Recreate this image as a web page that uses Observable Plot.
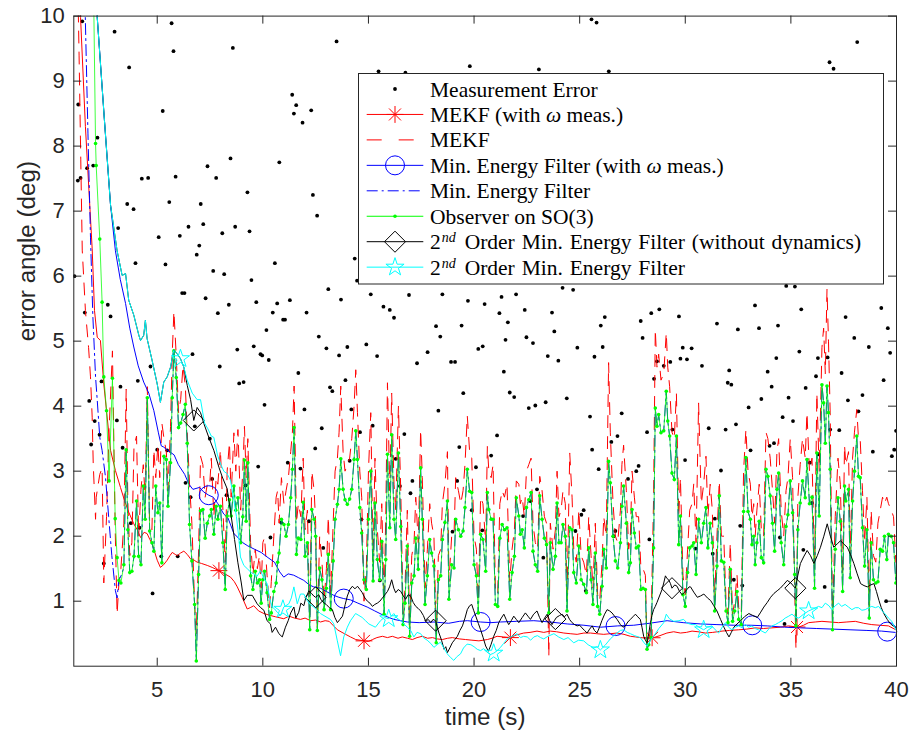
<!DOCTYPE html>
<html><head><meta charset="utf-8">
<script src="https://cdn.jsdelivr.net/npm/d3@7"></script>
<script src="https://cdn.jsdelivr.net/npm/@observablehq/plot@0.6"></script>
<style>html,body{margin:0;padding:0;background:#fff;}</style>
</head><body><div id="chart"></div>
<script>
// ---------------- DATA ----------------
const xTicks = [5,10,15,20,25,30,35,40];
const yTicks = [1,2,3,4,5,6,7,8,9,10];
const legendLabels = ["Measurement Error","MEKF (with ω meas.)","MEKF","Min. Energy Filter (with ω meas.)","Min. Energy Filter","Observer on SO(3)","2nd Order Min. Energy Filter (without dynamics)","2nd Order Min. Energy Filter"];

// measurement error (black dots) [time, error]
const measurement = [
[1.08,6.0],[1.24,7.47],[1.26,8.64],[1.37,7.51],[1.45,9.92],[1.57,5.44],[1.68,7.66],[1.78,4.08],[1.87,3.41],[1.97,7.70],
[2.04,3.77],[2.17,8.13],[2.27,3.56],[2.36,4.38],[2.47,1.58],[2.66,5.56],[2.79,5.38],[2.98,9.76],[3.09,3.78],[3.15,6.74],
[3.26,4.3],[3.36,3.36],[3.58,7.11],[3.67,9.21],[3.75,2.2],[3.88,7.03],[3.97,6.2],[4.08,4.39],[4.16,2.13],[4.27,7.50],
[4.57,7.51],[4.68,4.61],[4.78,1.12],[5.0,3.33],[5.07,6.6],[5.19,1.69],[5.26,8.54],[5.39,6.18],[5.47,3.32],[5.57,7.14],
[5.68,9.89],[5.77,9.46],[5.87,7.53],[5.97,1.69],[6.07,6.62],[6.18,5.74],[6.29,5.74],[6.34,2.82],[6.48,6.76],[6.58,2.6],
[6.67,4.8],[6.78,3.69],[6.87,6.33],[6.99,6.47],[7.06,7.11],[7.18,6.8],[7.29,5.66],[7.38,7.69],[7.49,3.5],[7.6,2.88],
[7.65,6.08],[7.79,7.51],[7.87,5.43],[7.96,4.61],[8.08,6.66],[8.17,6.03],[8.28,2.63],[8.39,5.56],[8.47,7.81],[8.58,9.51],
[8.69,6.76],[8.79,4.87],[8.88,4.35],[9.09,4.37],[9.18,2.78],[9.27,7.29],[9.37,6.69],[9.46,5.94],[9.57,4.92],[9.69,5.6],
[9.78,3.07],[9.89,4.8],[9.97,4.78],[10.08,4.02],[10.17,5.17],[10.28,4.71],[10.36,1.98],[10.47,5.44],[10.57,6.2],[10.68,5.58],
[10.78,7.75],[10.87,2.21],[10.96,5.33],[11.05,5.33],[11.18,3.13],[11.28,5.63],[11.39,8.79],[11.47,8.5],[11.58,8.63],[11.68,4.51],
[11.78,3.04],[11.88,8.36],[11.97,3.95],[12.07,5.44],[12.18,2.23],[12.29,8.55],[12.37,7.25],[12.48,3.35],[12.57,6.93],[12.65,5.07],
[12.79,3.66],[12.86,1.82],[13.01,4.89],[13.1,5.8],[13.18,4.29],[13.29,4.23],[13.49,9.61],[13.61,4.78],[13.7,5.64],[13.91,4.4],[14.0,4.91],
[14.11,3.16],[14.19,3.95],[14.35,6.27],[14.46,5.93],[14.6,3.6],[14.67,2.26],[14.9,4.95],[15.11,5.72],[15.2,3.7],[15.41,4.77],
[15.48,9.15],[15.54,1.32],[15.71,5.53],[16.01,5.48],[16.21,5.36],[16.29,3.19],[16.49,2.77],[16.7,3.57],[16.75,9.13],[16.92,5.71],[16.99,2.66],[17.08,2.85],
[17.3,4.66],[17.8,4.83],[18.2,5.23],[18.31,3.93],[18.4,5.07],[18.5,5.72],[18.91,4.68],[18.98,2.07],[19.1,4.68],[19.2,2.85],
[19.3,3.37],[19.41,5.24],[19.49,4.2],[19.71,5.62],[19.8,9.23],[19.89,2.4],[20.09,3.06],[20.2,4.88],[20.39,2.09],[20.41,4.92],[20.5,5.57],
[20.81,3.24],[21.09,3.55],[21.2,5.43],[21.3,5.68],[21.41,4.53],[21.49,5.02],[21.6,5.29],[21.69,4.21],[21.9,4.14],[21.99,5.72],
[22.32,2.31],[22.4,5.48],[22.48,5.06],[22.59,3.97],[22.67,2.54],[22.79,4.97],[22.9,4.01],[22.98,2.72],[23.07,9.18],[23.28,1.67],[23.39,4.06],
[23.49,4.77],[23.69,5.44],[23.8,5.15],[23.99,4.7],[24.19,5.82],[24.39,4.12],[24.69,5.79],[24.8,2.08],[24.89,4.9],[25.08,2.33],
[25.19,2.4],[25.29,1.16],[25.49,3.84],[25.56,9.95],[25.59,3.33],[25.7,4.76],[25.8,9.9],[25.9,3.03],[26.0,5.24],[26.09,4.91],[26.19,5.37],[26.38,9.15],[26.5,3.45],
[26.61,2.0],[26.69,2.08],[26.79,3.54],[26.99,3.89],[27.29,2.88],[27.68,3.0],[27.79,3.08],[27.89,5.31],[27.98,5.05],[28.19,3.6],
[28.3,1.95],[28.39,5.43],[28.52,4.42],[28.66,4.69],[28.77,5.49],[28.98,4.62],[29.29,4.68],[29.39,3.64],[29.7,5.38],[29.77,4.73],
[29.88,4.9],[29.99,3.17],[30.08,4.72],[30.3,4.89],[30.49,1.81],[30.79,4.62],[31.11,3.66],[31.3,1.73],[31.4,2.27],[31.5,5.27],
[31.69,3.01],[31.91,3.64],[32.01,4.36],[32.08,4.55],[32.18,4.33],[32.3,1.33],[32.4,3.72],[32.49,5.18],[32.6,2.16],[32.7,1.24],
[33.0,3.98],[33.09,3.32],[33.3,5.55],[33.49,5.2],[33.6,4.11],[33.9,4.53],[33.99,3.39],[34.09,4.3],[34.2,3.43],[34.31,4.74],
[34.39,5.24],[34.48,1.98],[34.61,3.83],[34.7,0.65],[34.78,5.85],[34.89,4.13],[35.1,3.77],[35.19,5.84],[35.4,4.84],[35.49,5.49],
[35.59,1.79],[35.7,4.28],[35.9,3.13],[36.0,2.51],[36.19,4.46],[36.28,4.74],[36.3,3.26],[36.6,1.22],[36.74,4.75],[36.83,9.29],[36.86,3.64],[37.02,9.19],
[37.29,3.63],[37.4,4.51],[37.59,5.37],[37.7,4.09],[38.0,5.05],[38.14,9.6],[38.2,3.92],[38.39,4.17],[38.69,4.91],[38.88,3.3],[39.28,5.51],
[39.39,4.4],[39.51,1.0],[39.59,5.2],[39.7,4.82],[39.78,3.23],[39.89,3.33],[39.98,3.62]
];

// MEKF (with omega meas.) red solid [time, error]
const mekfWithOmega = [
[1.2,11.5],[1.37,9.98],[1.6,8.3],[1.92,6.42],[2.03,5.47],[2.16,5.06],[2.31,5.01],[2.47,4.34],[2.79,3.32],[3.02,3.01],
[3.26,2.75],[3.45,2.55],[3.65,2.37],[3.89,2.19],[4.05,2.1],[4.21,1.98],[4.38,2.06],[4.52,2.04],[4.65,1.95],[4.76,1.88],
[5.0,1.63],[5.15,1.52],[5.3,1.56],[5.47,1.63],[5.6,1.7],[5.71,1.75],[5.85,1.72],[5.95,1.70],[6.1,1.74],[6.26,1.77],
[6.42,1.72],[6.58,1.65],[6.75,1.63],[6.89,1.6],[7.1,1.58],[7.37,1.55],[7.6,1.52],[7.92,1.47],[8.2,1.42],[8.47,1.37],
[8.65,1.3],[8.79,1.22],[9.02,1.06],[9.26,0.88],[9.4,0.9],[9.57,0.93],[9.8,0.85],[10.05,0.81],[10.36,0.78],[10.6,0.76],
[10.99,0.73],[11.24,0.77],[11.5,0.74],[11.78,0.72],[12.0,0.74],[12.26,0.70],[12.5,0.71],[12.73,0.68],[12.95,0.7],[13.14,0.69],
[13.35,0.62],[13.53,0.56],[13.75,0.52],[13.92,0.49],[14.15,0.45],[14.4,0.41],[14.6,0.4],[14.79,0.39],[15.0,0.38],[15.19,0.41],
[15.4,0.44],[15.66,0.46],[15.9,0.44],[16.13,0.46],[16.4,0.43],[16.6,0.45],[16.85,0.43],[17.08,0.41],[17.3,0.44],[17.55,0.46],
[17.8,0.43],[18.03,0.44],[18.25,0.42],[18.5,0.41],[18.75,0.43],[18.97,0.44],[19.3,0.42],[19.6,0.41],[19.9,0.40],[20.23,0.39],
[20.63,0.41],[20.85,0.43],[21.09,0.46],[21.4,0.45],[21.72,0.44],[22.0,0.48],[22.35,0.51],[22.65,0.52],[22.98,0.54],[23.3,0.52],
[23.61,0.54],[23.9,0.53],[24.25,0.51],[24.55,0.50],[24.88,0.49],[25.2,0.51],[25.51,0.51],[25.8,0.50],[26.14,0.49],[26.45,0.50],
[26.77,0.51],[27.1,0.49],[27.4,0.46],[27.65,0.45],[27.87,0.44],[28.2,0.43],[28.5,0.44],[28.8,0.47],[29.13,0.51],[29.45,0.53],
[29.77,0.51],[30.05,0.52],[30.32,0.54],[30.6,0.53],[30.95,0.51],[31.3,0.52],[31.74,0.54],[32.1,0.55],[32.53,0.56],[32.9,0.57],
[33.31,0.59],[33.7,0.58],[34.1,0.59],[34.5,0.60],[34.89,0.62],[35.1,0.61],[35.36,0.60],[35.6,0.63],[35.84,0.67],[36.15,0.68],
[36.47,0.69],[36.85,0.68],[37.26,0.67],[37.65,0.68],[38.05,0.69],[38.45,0.66],[38.83,0.64],[39.2,0.63],[39.62,0.62],[39.97,0.56]
];
const mekfWithOmegaMarkT = [7.92,14.79,21.72,28.43,35.29];

// MEKF red dashed: transient before the common time grid [time, error]
const mekfEarly = [[1.1,13.0],[1.2,11.2],[1.3,9.4],[1.38,7.8],[1.45,6.4],[1.6,5.47],[1.75,4.9],[1.84,4.45],[1.92,3.83]];

// Observer on SO(3) (green) and MEKF (red dashed) on the shared time grid: [time, observer, MEKF]
const observerMekf = [
[1.97,10.8,3.11],[2.08,8.04,2.26],[2.11,7.7,2.6],[2.28,6.57,2.95],[2.39,5.6,3.05],[2.47,4.45,1.28],[2.6,3.93,2.3],[2.72,2.85,3.64],[2.88,4.43,4.85],[3.01,2.27,2.1],
[3.1,1.67,0.8],[3.19,1.32,1.3],[3.28,1.28,1.5],[3.42,1.56,2.2],[3.53,3.33,4.26],[3.61,2.1,2.51],[3.7,1.44,1.7],[3.8,1.46,1.9],[3.9,1.69,3.38],[4.02,2.54,3.54],
[4.12,1.69,2.0],[4.23,1.56,2.72],[4.34,2.77,3.1],[4.43,2.26,2.6],[4.53,4.13,4.3],[4.64,2.08,2.2],[4.75,1.9,2.1],[4.84,1.77,3.33],[4.93,2.77,2.9],[5.03,2.36,3.41],
[5.12,2.51,2.9],[5.22,1.59,3.74],[5.32,3.23,3.5],[5.43,3.18,3.3],[5.51,2.46,2.7],[5.63,3.13,3.69],[5.71,4.13,4.8],[5.79,4.85,5.46],[5.9,4.44,4.77],[6.01,3.67,3.9],
[6.11,3.74,4.1],[6.22,3.87,4.62],[6.33,4.03,4.31],[6.42,3.43,3.6],[6.53,2.18,2.8],[6.64,1.62,2.2],[6.77,0.95,0.95],[6.85,0.08,0.5],[6.96,1.41,1.8],[7.05,2.39,3.23],
[7.16,2.41,3.1],[7.27,1.97,2.6],[7.37,2.2,2.8],[7.48,2.31,2.77],[7.56,2.41,3.2],[7.68,2.03,2.3],[7.79,2.46,2.9],[7.87,2.26,2.8],[7.99,2.46,3.33],[8.11,1.9,2.4],
[8.22,1.18,1.6],[8.31,2.31,3.0],[8.42,2.56,3.44],[8.5,2.31,2.6],[8.63,2.77,3.59],[8.72,2.4,3.0],[8.82,2.59,3.64],[8.95,1.9,2.4],[9.05,2.3,3.0],[9.13,3.17,3.69],
[9.21,2.23,2.9],[9.29,3.13,3.5],[9.42,1.39,1.9],[9.53,1.18,1.4],[9.64,1.46,1.8],[9.74,1.28,1.5],[9.84,1.33,1.7],[9.92,0.97,1.2],[10.0,1.33,1.9],[10.08,1.46,1.98],
[10.2,1.13,1.4],[10.32,0.72,0.9],[10.4,0.82,1.3],[10.52,1.15,2.0],[10.63,1.28,2.6],[10.7,1.6,2.7],[10.77,1.74,2.2],[10.88,2.26,2.9],[11.0,2.18,2.5],[11.1,2.0,2.7],
[11.21,2.18,2.9],[11.32,2.59,3.3],[11.4,3.03,3.6],[11.48,3.67,4.31],[11.59,1.72,2.2],[11.68,1.97,2.5],[11.8,1.95,2.3],[11.91,2.52,3.2],[12.0,1.69,2.1],[12.11,1.9,2.4],
[12.22,0.56,0.7],[12.32,2.41,3.0],[12.43,2.26,2.7],[12.5,2.0,2.2],[12.58,0.55,0.6],[12.69,1.51,2.0],[12.8,1.33,1.6],[12.9,0.87,1.0],[13.01,1.2,1.5],[13.1,1.72,2.3],
[13.21,0.87,1.1],[13.33,1.62,2.2],[13.42,2.26,3.0],[13.53,2.49,3.2],[13.61,2.72,3.6],[13.69,3.19,4.31],[13.8,2.72,3.3],[13.89,2.56,3.0],[14.0,2.49,3.1],[14.11,2.57,3.2],
[14.21,2.72,3.5],[14.32,3.18,4.0],[14.4,3.62,4.56],[14.48,3.18,3.9],[14.59,2.44,3.0],[14.68,2.05,2.6],[14.79,1.33,1.0],[14.9,1.18,1.5],[15.0,2.26,3.0],[15.11,3.0,3.9],
[15.22,1.31,1.6],[15.31,2.51,3.2],[15.42,1.64,2.1],[15.53,1.33,1.6],[15.63,1.92,2.5],[15.74,0.8,1.0],[15.82,1.64,2.3],[15.9,3.26,4.36],[16.01,2.13,2.7],[16.1,3.56,4.2],
[16.21,2.26,2.8],[16.29,1.95,2.4],[16.42,3.28,4.0],[16.53,2.15,2.7],[16.64,0.64,0.8],[16.73,0.97,1.2],[16.84,1.85,2.4],[16.95,0.46,0.6],[17.05,1.28,1.7],[17.16,1.39,1.9],
[17.24,1.97,2.6],[17.36,1.49,1.9],[17.47,3.05,3.64],[17.55,2.26,2.9],[17.68,0.95,1.2],[17.79,1.39,1.8],[17.9,1.95,2.5],[17.99,1.74,2.2],[18.1,1.54,2.0],[18.21,0.36,0.5],
[18.31,1.33,1.7],[18.42,1.39,1.8],[18.5,1.95,2.5],[18.62,2.21,2.8],[18.74,2.54,3.3],[18.81,1.03,1.3],[18.94,1.56,2.0],[19.05,1.51,2.0],[19.13,2.26,2.9],[19.26,2.1,2.7],
[19.37,2.0,2.5],[19.48,2.08,2.7],[19.57,2.44,3.1],[19.68,3.03,3.85],[19.79,2.69,3.3],[19.89,2.67,3.2],[20.0,1.56,2.0],[20.11,1.39,1.8],[20.2,0.82,1.0],[20.31,2.03,2.6],
[20.42,1.95,2.5],[20.55,1.46,1.9],[20.63,2.67,3.38],[20.7,2.41,3.0],[20.81,2.26,2.9],[20.9,2.26,3.1],[21.01,0.95,1.2],[21.12,0.92,1.1],[21.22,1.97,2.5],[21.33,2.18,2.7],
[21.44,2.1,2.6],[21.56,2.13,2.8],[21.69,1.03,1.3],[21.8,1.44,1.8],[21.91,1.69,2.1],[22.0,2.59,2.85],[22.12,2.31,2.8],[22.19,2.03,2.5],[22.28,2.1,2.6],[22.38,1.82,2.3],
[22.48,2.44,3.0],[22.59,2.56,3.1],[22.7,2.67,3.2],[22.79,1.77,2.2],[22.9,1.56,1.9],[23.01,1.46,1.8],[23.11,2.62,2.92],[23.22,2.26,2.7],[23.33,1.97,2.3],[23.43,1.87,2.2],
[23.54,0.82,0.15],[23.61,1.9,2.2],[23.74,1.49,1.8],[23.85,1.69,2.1],[23.93,2.51,3.0],[24.02,1.9,2.3],[24.12,1.9,2.4],[24.21,2.18,2.7],[24.32,2.0,2.5],[24.4,0.85,1.0],
[24.53,2.13,3.28],[24.64,2.1,2.6],[24.72,1.44,1.8],[24.84,1.28,1.6],[24.96,1.85,2.4],[25.07,1.33,1.7],[25.19,1.26,1.6],[25.32,1.13,1.4],[25.43,1.82,2.3],[25.54,1.33,1.7],
[25.63,0.95,1.2],[25.74,1.74,2.2],[25.85,0.92,1.1],[25.95,0.8,1.0],[26.06,1.23,1.6],[26.14,1.8,2.3],[26.26,1.51,2.0],[26.37,3.15,4.67],[26.45,2.82,3.6],[26.58,2.0,2.5],
[26.69,1.62,2.0],[26.8,1.51,1.9],[26.93,1.9,2.4],[27.0,2.46,3.1],[27.08,2.77,3.4],[27.21,2.2,2.7],[27.32,1.44,1.8],[27.4,1.59,2.0],[27.48,2.41,3.0],[27.59,2.05,2.6],
[27.68,1.82,2.3],[27.79,1.85,2.3],[27.9,1.18,1.5],[28.0,1.2,1.5],[28.11,1.18,1.4],[28.19,0.26,0.3],[28.27,0.33,0.4],[28.38,0.44,0.6],[28.5,1.82,2.6],[28.58,3.97,5.18],
[28.66,3.69,4.6],[28.74,3.87,4.8],[28.85,3.59,4.4],[28.98,3.62,4.5],[29.1,4.23,5.13],[29.17,3.77,4.6],[29.26,3.54,4.3],[29.37,2.97,3.6],[29.48,2.87,3.5],[29.58,3.54,4.2],
[29.69,1.87,2.3],[29.77,2.31,2.9],[29.89,1.1,1.4],[30.0,0.92,1.1],[30.11,1.44,1.8],[30.21,1.82,2.4],[30.32,1.85,2.5],[30.4,1.9,2.8],[30.51,1.41,1.9],[30.63,2.26,4.05],
[30.76,1.9,2.5],[30.87,2.2,2.8],[30.98,2.44,3.23],[31.07,1.82,2.3],[31.18,2.2,2.8],[31.28,1.9,2.4],[31.39,0.85,1.0],[31.5,1.54,2.0],[31.61,2.62,2.85],[31.71,1.62,2.0],
[31.82,1.6,2.0],[31.93,0.85,1.0],[32.02,0.67,0.8],[32.13,1.49,1.9],[32.24,0.69,0.8],[32.34,0.85,1.0],[32.45,1.15,1.4],[32.53,0.72,0.9],[32.65,0.64,0.8],[32.76,2.38,3.0],
[32.87,3.21,3.64],[32.97,2.38,3.0],[33.08,2.26,2.8],[33.16,1.87,2.3],[33.24,2.0,2.5],[33.31,1.56,2.0],[33.39,1.9,2.4],[33.5,2.23,2.8],[33.6,1.67,2.1],[33.71,1.59,2.0],
[33.82,3.03,3.6],[33.91,2.92,3.5],[34.02,2.62,3.2],[34.13,2.2,2.7],[34.23,1.77,2.2],[34.34,2.72,3.3],[34.42,2.97,3.5],[34.54,1.9,2.4],[34.66,1.56,2.0],[34.77,2.15,2.7],
[34.86,2.33,2.9],[34.97,2.85,3.5],[35.08,2.36,2.9],[35.18,1.41,1.2],[35.24,0.62,0.26],[35.33,2.1,2.6],[35.44,2.51,3.1],[35.55,2.85,3.5],[35.68,2.59,3.2],[35.76,3.18,3.9],
[35.88,2.5,3.0],[36.0,2.6,3.2],[36.12,1.2,1.5],[36.23,3.28,4.2],[36.34,2.31,3.0],[36.47,4.33,4.9],[36.55,4.05,5.2],[36.63,3.43,4.5],[36.71,4.31,5.8],[36.78,3.9,5.0],
[36.86,3.03,3.9],[36.97,0.56,0.7],[37.1,1.8,2.3],[37.23,2.59,3.2],[37.34,2.23,2.8],[37.45,1.15,1.4],[37.54,2.77,3.4],[37.6,2.54,3.1],[37.73,2.72,3.3],[37.81,1.36,1.7],
[37.92,2.54,3.2],[38.01,3.0,3.6],[38.12,3.54,3.95],[38.2,2.92,3.5],[38.28,2.9,3.5],[38.39,2.13,2.7],[38.49,1.54,1.9],[38.6,2.1,2.6],[38.71,0.74,0.9],[38.8,1.9,2.4],
[38.91,1.33,1.7],[39.02,1.28,1.6],[39.12,1.3,2.2],[39.23,1.8,2.4],[39.34,1.77,2.6],[39.43,2.0,2.5],[39.54,1.64,2.6],[39.62,2.03,2.5],[39.75,2.0,2.4],[39.86,1.9,2.3],
[39.97,1.28,1.6]
];

// Min. Energy Filter (with omega meas.) blue solid [time, error]
const minEnergyWithOmega = [
[2.0,11.5],[2.16,9.98],[2.5,8.4],[2.79,7.09],[3.02,6.39],[3.25,5.95],[3.5,5.58],[3.7,5.2],[3.89,4.91],[4.1,4.62],
[4.36,4.37],[4.6,4.2],[4.84,3.93],[5.05,3.6],[5.19,3.39],[5.31,3.37],[5.45,3.33],[5.63,3.29],[5.8,3.25],[6.0,3.1],
[6.3,2.95],[6.5,2.8],[6.69,2.72],[7.0,2.75],[7.2,2.68],[7.44,2.63],[7.65,2.6],[7.87,2.5],[8.15,2.34],[8.35,2.28],
[8.63,2.04],[8.82,1.98],[9.05,1.9],[9.29,1.85],[9.6,1.8],[9.92,1.75],[10.2,1.68],[10.55,1.6],[10.8,1.45],[10.99,1.37],
[11.2,1.42],[11.46,1.40],[11.7,1.36],[11.94,1.32],[12.2,1.25],[12.41,1.22],[12.73,1.2],[13.0,1.15],[13.36,1.09],[13.6,1.06],
[13.83,1.04],[14.15,1.02],[14.5,0.97],[14.94,0.91],[15.3,0.85],[15.73,0.78],[16.2,0.72],[16.84,0.68],[17.4,0.67],[18.1,0.68],
[18.8,0.66],[19.3,0.69],[19.68,0.70],[20.3,0.68],[20.8,0.67],[21.25,0.68],[22.0,0.69],[22.83,0.70],[23.6,0.68],[24.41,0.65],
[25.2,0.63],[25.99,0.60],[26.8,0.62],[27.56,0.63],[28.3,0.66],[29.14,0.70],[29.9,0.67],[30.72,0.65],[31.5,0.64],[32.3,0.63],
[33.1,0.63],[33.88,0.62],[34.7,0.6],[35.45,0.59],[36.2,0.58],[37.03,0.57],[37.8,0.56],[38.6,0.55],[39.3,0.54],[39.94,0.52]
];
const minEnergyWithOmegaMarkT = [7.44,13.83,20.31,26.7,33.17,39.56];

// Min. Energy Filter (blue dash-dot): own transient, afterwards it coincides with the observer
const minEnergyEarly = [[1.5,11.5],[1.6,9.9],[1.72,8.2],[1.84,6.6],[1.95,5.4],[2.08,4.45],[2.16,4.09],[2.28,3.52],[2.39,3.32],[2.55,2.91],[2.7,2.3],[2.85,1.7],[3.02,1.16],[3.1,1.05],[3.18,1.32],[3.3,1.4],[3.42,1.52]];

// shared start of both 2nd order filters
const secondOrderStart = [[2.0,11.5],[2.16,9.98],[2.5,8.4],[2.79,7.09],[3.1,6.39],[3.34,6.01],[3.5,6.04],[3.65,5.63],[3.89,5.4],[4.13,5.09],[4.21,5.01],[4.36,5.09],[4.44,5.32],[4.52,5.04],[4.76,4.7],[5.0,4.34],[5.15,4.06],[5.31,4.37],[5.47,4.45],[5.63,4.6],[5.78,4.86],[5.94,4.81],[6.1,4.73],[6.26,4.6]];

// 2nd Order Min. Energy Filter (without dynamics) black [time, error]
const secondOrderNoDyn = [
[6.42,4.32],[6.58,4.1],[6.73,3.78],[6.89,3.98],[7.05,3.9],[7.21,3.73],[7.44,3.52],[7.68,3.32],[7.92,3.06],[8.08,2.91],
[8.31,2.73],[8.5,2.31],[8.66,1.95],[8.82,1.59],[8.98,1.28],[9.1,1.01],[9.26,1.09],[9.5,1.09],[9.73,0.96],[9.9,0.9],
[10.05,0.86],[10.2,0.7],[10.36,0.65],[10.44,0.52],[10.6,0.6],[10.76,0.5],[10.92,0.45],[11.07,0.6],[11.2,0.7],[11.32,0.82],
[11.47,0.91],[11.56,0.74],[11.7,0.83],[11.8,0.97],[11.94,0.93],[12.03,1.05],[12.18,1.16],[12.3,1.12],[12.41,1.08],[12.5,1.06],
[12.65,1.1],[12.74,1.03],[12.87,0.98],[13.0,0.95],[13.15,0.9],[13.29,0.87],[13.41,0.75],[13.53,0.67],[13.65,0.72],[13.77,0.77],
[13.9,0.95],[14.0,1.08],[14.12,1.18],[14.24,1.23],[14.36,1.19],[14.48,1.23],[14.6,1.18],[14.71,1.13],[14.83,1.05],[14.95,1.0],
[15.07,0.97],[15.19,0.92],[15.3,0.95],[15.42,0.97],[15.54,1.0],[15.66,1.05],[15.78,1.1],[15.9,1.15],[16.0,1.22],[16.1,1.33],
[16.2,1.2],[16.29,1.13],[16.41,1.18],[16.53,1.15],[16.65,1.08],[16.76,1.03],[16.88,1.1],[17.0,1.08],[17.12,0.98],[17.24,0.92],
[17.35,0.89],[17.47,0.85],[17.6,0.78],[17.71,0.69],[17.83,0.72],[17.95,0.67],[18.06,0.72],[18.18,0.7],[18.26,0.6],[18.34,0.51],
[18.46,0.4],[18.58,0.26],[18.66,0.3],[18.74,0.21],[18.85,0.28],[18.97,0.36],[19.09,0.41],[19.21,0.46],[19.33,0.55],[19.45,0.62],
[19.57,0.74],[19.68,0.87],[19.79,0.93],[19.89,0.95],[19.98,0.86],[20.08,0.77],[20.2,0.66],[20.31,0.56],[20.43,0.44],[20.55,0.31],
[20.68,0.23],[20.8,0.33],[20.93,0.46],[21.05,0.55],[21.17,0.67],[21.29,0.74],[21.41,0.8],[21.52,0.72],[21.64,0.64],[21.76,0.7],
[21.88,0.77],[22.0,0.72],[22.12,0.67],[22.28,0.75],[22.43,0.82],[22.55,0.77],[22.67,0.72],[22.82,0.8],[22.98,0.85],[23.1,0.75],
[23.22,0.67],[23.34,0.74],[23.46,0.8],[23.58,0.7],[23.69,0.64],[23.8,0.7],[23.9,0.75],[24.05,0.78],[24.17,0.8],[24.28,0.76],
[24.4,0.8],[24.52,0.72],[24.64,0.67],[24.76,0.64],[24.88,0.62],[25.0,0.63],[25.11,0.59],[25.23,0.55],[25.35,0.51],[25.47,0.57],
[25.59,0.62],[25.7,0.55],[25.82,0.51],[25.94,0.6],[26.05,0.7],[26.18,0.8],[26.3,0.87],[26.42,0.85],[26.53,0.82],[26.65,0.77],
[26.77,0.72],[26.93,0.64],[27.05,0.6],[27.16,0.62],[27.28,0.68],[27.4,0.72],[27.52,0.76],[27.64,0.8],[27.75,0.76],[27.87,0.72],
[27.95,0.6],[28.03,0.46],[28.11,0.4],[28.19,0.36],[28.27,0.5],[28.35,0.67],[28.42,0.78],[28.5,0.87],[28.58,0.92],[28.66,0.98],
[28.78,1.08],[28.9,1.18],[28.98,1.28],[29.06,1.39],[29.13,1.35],[29.21,1.33],[29.3,1.27],[29.37,1.2],[29.5,1.25],[29.61,1.23],
[29.73,1.15],[29.85,1.1],[29.97,1.14],[30.08,1.18],[30.18,1.22],[30.25,1.22],[30.4,1.14],[30.57,1.06],[30.72,1.08],[30.88,1.11],
[31.05,1.05],[31.2,1.01],[31.35,0.93],[31.5,0.85],[31.67,0.72],[31.83,0.6],[31.95,0.52],[32.07,0.45],[32.18,0.52],[32.3,0.6],
[32.45,0.65],[32.62,0.7],[32.8,0.76],[33.01,0.81],[33.2,0.78],[33.41,0.75],[33.55,0.82],[33.72,0.91],[33.88,0.98],[34.04,1.06],
[34.2,1.12],[34.35,1.16],[34.5,1.2],[34.67,1.26],[34.83,1.32],[35.0,1.28],[35.21,1.2],[35.33,1.4],[35.45,1.58],[35.6,1.68],
[35.77,1.78],[35.93,1.7],[36.09,1.58],[36.25,1.7],[36.4,1.83],[36.56,2.0],[36.72,2.19],[36.87,2.0],[37.03,1.83],[37.19,1.88],
[37.35,1.93],[37.5,1.88],[37.67,1.83],[37.82,1.72],[37.98,1.58],[38.14,1.42],[38.3,1.27],[38.46,1.24],[38.62,1.22],[38.78,1.25],
[38.93,1.27],[39.05,1.15],[39.17,1.01],[39.28,0.9],[39.4,0.81],[39.56,0.72],[39.72,0.65],[39.84,0.62],[39.96,0.6]
];
const secondOrderNoDynMarkT = [6.73,12.5,18.18,23.85,29.37,35.21];

// 2nd Order Min. Energy Filter cyan [time, error]
const secondOrder = [
[6.42,4.4],[6.66,4.2],[6.89,4.1],[7.05,4.1],[7.24,3.74],[7.4,3.65],[7.56,3.54],[7.68,3.52],[7.85,3.25],[8.0,3.11],
[8.15,3.0],[8.31,2.96],[8.47,2.86],[8.63,2.55],[8.75,2.3],[8.86,1.98],[8.94,1.68],[9.1,1.55],[9.26,1.5],[9.45,1.44],
[9.57,1.42],[9.72,1.38],[9.89,1.47],[10.05,1.35],[10.2,1.27],[10.32,1.05],[10.44,0.91],[10.56,0.88],[10.68,0.83],[10.84,0.78],
[10.99,0.91],[11.23,0.96],[11.35,1.05],[11.47,1.22],[11.63,0.96],[11.78,1.11],[11.94,1.11],[12.1,1.01],[12.25,0.95],[12.41,0.91],
[12.57,0.86],[12.73,0.81],[13.04,0.75],[13.2,0.72],[13.36,0.65],[13.52,0.4],[13.68,0.16],[13.83,0.45],[14.0,0.6],[14.15,0.7],
[14.39,0.81],[14.55,0.78],[14.7,0.75],[14.86,0.7],[15.02,0.65],[15.33,0.6],[15.57,0.7],[15.75,0.75],[15.96,0.73],[16.2,0.81],
[16.35,0.74],[16.52,0.7],[16.84,0.6],[17.0,0.55],[17.15,0.45],[17.3,0.52],[17.47,0.5],[17.6,0.44],[17.78,0.4],[17.95,0.35],
[18.1,0.29],[18.25,0.33],[18.41,0.37],[18.57,0.28],[18.73,0.19],[18.9,0.13],[19.04,0.09],[19.2,0.15],[19.36,0.19],[19.5,0.28],
[19.67,0.34],[19.85,0.33],[20.0,0.3],[20.15,0.26],[20.31,0.24],[20.45,0.27],[20.62,0.22],[20.78,0.18],[20.93,0.2],[21.1,0.24],
[21.25,0.29],[21.4,0.35],[21.57,0.42],[21.8,0.46],[22.04,0.5],[22.2,0.44],[22.35,0.46],[22.52,0.45],[22.68,0.4],[22.83,0.45],
[23.0,0.47],[23.15,0.44],[23.3,0.42],[23.5,0.46],[23.78,0.5],[24.0,0.45],[24.25,0.41],[24.45,0.44],[24.72,0.36],[24.95,0.4],
[25.19,0.39],[25.4,0.33],[25.67,0.28],[25.82,0.3],[25.98,0.25],[26.2,0.32],[26.45,0.42],[26.62,0.47],[26.77,0.51],[26.93,0.55],
[27.08,0.56],[27.25,0.52],[27.4,0.5],[27.6,0.47],[27.87,0.44],[28.05,0.36],[28.19,0.31],[28.35,0.4],[28.5,0.46],[28.75,0.58],
[28.98,0.67],[29.1,0.8],[29.25,0.73],[29.45,0.69],[29.7,0.7],[29.92,0.72],[30.1,0.66],[30.32,0.64],[30.48,0.64],[30.65,0.6],
[30.87,0.56],[31.05,0.6],[31.26,0.62],[31.42,0.56],[31.58,0.51],[31.75,0.6],[31.9,0.67],[32.05,0.6],[32.21,0.56],[32.37,0.6],
[32.53,0.62],[32.7,0.59],[32.84,0.64],[33.0,0.6],[33.16,0.62],[33.3,0.58],[33.47,0.56],[33.63,0.54],[33.79,0.51],[33.95,0.57],
[34.1,0.62],[34.26,0.64],[34.42,0.67],[34.58,0.7],[34.73,0.74],[34.9,0.77],[35.05,0.8],[35.2,0.76],[35.37,0.74],[35.6,0.8],
[35.84,0.85],[36.05,0.88],[36.31,0.92],[36.47,0.9],[36.63,0.97],[36.8,0.93],[36.94,0.87],[37.1,0.93],[37.26,0.97],[37.4,0.92],
[37.57,0.95],[37.73,0.91],[37.89,0.87],[38.05,0.9],[38.2,0.9],[38.36,0.86],[38.52,0.87],[38.68,0.9],[38.83,0.92],[39.0,0.9],
[39.15,0.92],[39.3,0.86],[39.47,0.8],[39.62,0.74],[39.78,0.69],[39.97,0.56]
];
const secondOrderMarkT = [6.1,10.95,15.96,20.93,25.98,30.87,35.84];

// ---------------- BUILD ----------------
const pts = a => a.map(([t, v]) => ({t, v}));
const obsRows = observerMekf.map(([t, g, m]) => ({t, g, m}));
const measPts = pts(measurement);
const mekfW = pts(mekfWithOmega);
const mekfDash = [...pts(mekfEarly), ...obsRows.map(d => ({t: d.t, v: d.m}))];
const minEW = pts(minEnergyWithOmega);
const minEDash = [...pts(minEnergyEarly), ...obsRows.filter(d => d.t > 3.45).map(d => ({t: d.t, v: d.g}))];
const obs = obsRows.map(d => ({t: d.t, v: d.g}));
const so2nd0 = [...pts(secondOrderStart), ...pts(secondOrderNoDyn)];
const so2nd = [...pts(secondOrderStart), ...pts(secondOrder)];

function at(series, t) {
  for (let i = 0; i < series.length - 1; i++) {
    const a = series[i], b = series[i + 1];
    if (t >= a.t && t <= b.t) return a.v + (b.v - a.v) * (t - a.t) / (b.t - a.t);
  }
  return series[series.length - 1].v;
}
const markers = (series, ts) => ts.map(t => ({t, v: at(series, t)}));

const RED = "#ff0000", BLUE = "#0000ff", GREEN = "#00ff00", CYAN = "#00ffff", BLACK = "#000000", AX = "#262626";
const FONT = "'Liberation Sans', Arial, Helvetica, sans-serif";
const ML = 73.3, MR = 16, MT = 15.6, MB = 72.3, W = 912, H = 738;
const frameW = W - ML - MR, frameH = H - MT - MB, TICK = 8;

const chart = Plot.plot({
  width: W, height: H,
  marginLeft: ML, marginRight: MR, marginTop: MT, marginBottom: MB,
  x: {domain: [1.05, 40], axis: null},
  y: {domain: [0, 10], axis: null},
  style: {fontFamily: FONT, fontSize: "22px", color: AX, background: "#fff", overflow: "visible"},
  marks: [
    Plot.dot(measPts, {x: "t", y: "v", r: 1.9, fill: BLACK, stroke: null, clip: true}),
    Plot.line(mekfW, {x: "t", y: "v", stroke: RED, strokeWidth: 1, clip: true}),
    Plot.dot(markers(mekfW, mekfWithOmegaMarkT), {x: "t", y: "v", symbol: "plus", r: 5.5, stroke: RED, fill: "none", strokeWidth: 1}),
    Plot.dot(markers(mekfW, mekfWithOmegaMarkT), {x: "t", y: "v", symbol: "times", r: 5.5, stroke: RED, fill: "none", strokeWidth: 1}),
    Plot.line(mekfDash, {x: "t", y: "v", stroke: RED, strokeWidth: 1, strokeDasharray: "12,9", clip: true}),
    Plot.line(minEW, {x: "t", y: "v", stroke: BLUE, strokeWidth: 1, clip: true}),
    Plot.dot(markers(minEW, minEnergyWithOmegaMarkT), {x: "t", y: "v", r: 9.5, stroke: BLUE, fill: "none", strokeWidth: 1}),
    Plot.line(minEDash, {x: "t", y: "v", stroke: BLUE, strokeWidth: 1, strokeDasharray: "11,4,2,4", clip: true}),
    Plot.line(obs, {x: "t", y: "v", stroke: GREEN, strokeWidth: 1, strokeOpacity: 0.75, clip: true}),
    Plot.dot(obs, {x: "t", y: "v", r: 1.8, fill: GREEN, stroke: null, clip: true}),
    Plot.line(so2nd0, {x: "t", y: "v", stroke: BLACK, strokeWidth: 1, clip: true}),
    Plot.dot(markers(so2nd0, secondOrderNoDynMarkT), {x: "t", y: "v", symbol: "diamond2", r: 9.5, stroke: BLACK, fill: "none", strokeWidth: 1}),
    Plot.line(so2nd, {x: "t", y: "v", stroke: CYAN, strokeWidth: 1, clip: true}),
    Plot.dot(markers(so2nd, secondOrderMarkT), {x: "t", y: "v", symbol: "star", r: 5.7, stroke: CYAN, fill: "none", strokeWidth: 1}),
    Plot.frame({stroke: AX, strokeWidth: 1}),
    // inward tick marks on all four sides
    Plot.tickY(yTicks, {y: d => d, stroke: AX, insetRight: frameW - TICK}),
    Plot.tickY(yTicks, {y: d => d, stroke: AX, insetLeft: frameW - TICK}),
    Plot.tickX(xTicks, {x: d => d, stroke: AX, insetTop: frameH - TICK}),
    Plot.tickX(xTicks, {x: d => d, stroke: AX, insetBottom: frameH - TICK}),
    // tick labels
    Plot.text(yTicks, {y: d => d, frameAnchor: "left", dx: -9, textAnchor: "end", text: d => String(d), fontSize: 22, fill: AX, lineAnchor: "middle"}),
    Plot.text(xTicks, {x: d => d, frameAnchor: "bottom", dy: 24, text: d => String(d), fontSize: 22, fill: AX, lineAnchor: "middle"}),
    Plot.text(["time (s)"], {frameAnchor: "bottom", dy: 51, text: d => d, fontSize: 24.2, fill: AX, lineAnchor: "middle"}),
    Plot.text(["error angle (deg)"], {frameAnchor: "left", dx: -47, rotate: -90, text: d => d, fontSize: 24.2, fill: AX, lineAnchor: "middle"})
  ]
});
document.getElementById("chart").appendChild(chart);

// ---------------- LEGEND ----------------
const svg = d3.select(chart.tagName.toLowerCase() === "svg" ? chart : chart.querySelector("svg"));
const lg = svg.append("g").attr("font-family", "'Liberation Serif', 'Times New Roman', serif")
  .attr("font-size", 21.5).attr("fill", "#000").attr("text-anchor", "start");
lg.append("rect").attr("x", 358.5).attr("y", 73.5).attr("width", 525).attr("height", 210.5)
  .attr("fill", "#fff").attr("stroke", AX).attr("stroke-width", 1);
const lx0 = 366.7, lx1 = 423.3, lmx = 395, ltx = 430;
const rowY = i => 89 + i * 25.45;
const sym = (type, r) => d3.symbol(type, Math.PI * r * r)();
const styles = [
  {dot: true},
  {stroke: RED, marker: [[d3.symbolPlus, 5.5], [d3.symbolTimes, 5.5]]},
  {stroke: RED, dash: "15,17"},
  {stroke: BLUE, marker: [[d3.symbolCircle, 9.5]]},
  {stroke: BLUE, dash: "11,4,2,4"},
  {stroke: GREEN, smallDot: true},
  {stroke: BLACK, marker: [[d3.symbolDiamond2, 9.5]]},
  {stroke: CYAN, marker: [[d3.symbolStar, 5.7]]}
];
styles.forEach((s, i) => {
  const y = rowY(i);
  if (s.dot) {
    lg.append("circle").attr("cx", lmx).attr("cy", y).attr("r", 1.9).attr("fill", BLACK);
  } else {
    lg.append("line").attr("x1", lx0).attr("x2", lx1).attr("y1", y).attr("y2", y)
      .attr("stroke", s.stroke).attr("stroke-width", 1).attr("stroke-dasharray", s.dash || null);
    if (s.smallDot) lg.append("circle").attr("cx", lmx).attr("cy", y).attr("r", 1.8).attr("fill", GREEN);
    (s.marker || []).forEach(([type, r]) => {
      lg.append("path").attr("d", sym(type, r)).attr("transform", `translate(${lmx},${y})`)
        .attr("fill", "none").attr("stroke", s.stroke).attr("stroke-width", 1);
    });
  }
  const txt = lg.append("text").attr("x", ltx).attr("y", y).attr("dy", "0.35em").attr("text-anchor", "start");
  const label = legendLabels[i];
  if (label.startsWith("2nd")) {
    txt.append("tspan").text("2");
    txt.append("tspan").attr("font-size", 14).attr("font-style", "italic").attr("dy", -7).attr("dx", 1).text("nd");
    txt.append("tspan").attr("dy", 7).attr("dx", 2).attr("word-spacing", 1.5).text(label.slice(3));
  } else if (label.includes("ω")) {
    const [a, b] = label.split("ω");
    txt.append("tspan").text(a);
    txt.append("tspan").attr("font-style", "italic").text("ω");
    txt.append("tspan").text(b);
  } else {
    txt.text(label);
  }
});
</script>
</body></html>
